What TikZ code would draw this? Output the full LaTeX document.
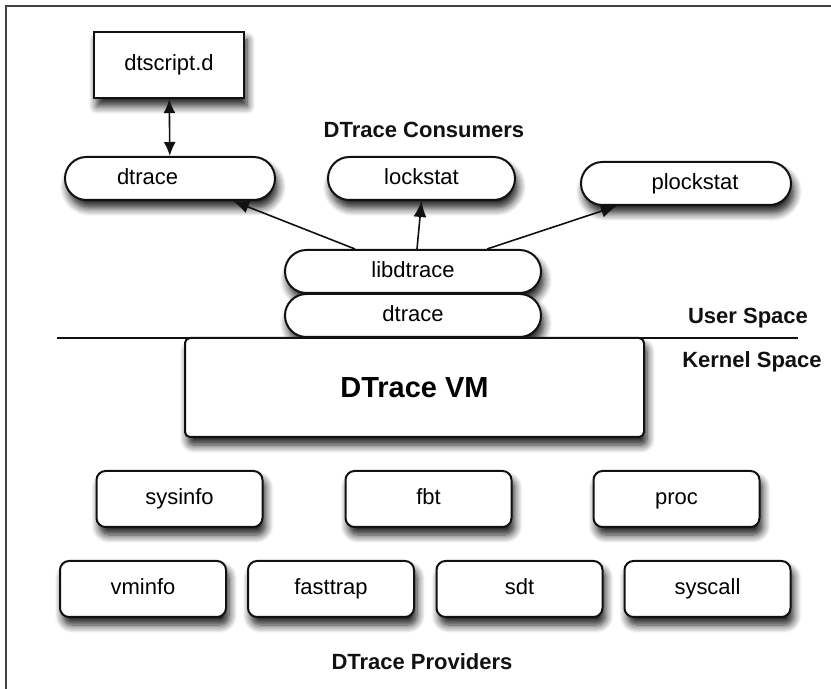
\documentclass[tikz,border=0pt]{standalone}
\usepackage{fontspec}
\setmainfont{Liberation Sans}
\usetikzlibrary{positioning, calc, arrows.meta, shadows.blur}
\definecolor{Dark}{HTML}{111111}
\definecolor{Frame}{HTML}{444444}
\definecolor{White}{HTML}{FFFFFF}
\tikzset{
    boxshadow/.style={blur shadow={shadow xshift=1.5pt, shadow yshift=-4pt, shadow blur radius=4pt, shadow blur steps=8, shadow opacity=90}},
    plainfont/.style={font=\fontsize{11}{13}\selectfont, text height=8pt, text depth=2.3pt},
    pill/.style={rectangle, rounded corners=10.7pt, draw=Dark, line width=1pt, fill=White, minimum height=21.5pt, plainfont, boxshadow},
    scriptbox/.style={rectangle, draw=Dark, line width=1.1pt, fill=White, minimum width=75pt, minimum height=33pt, plainfont, boxshadow},
    vmbox/.style={rectangle, rounded corners=2.5pt, draw=Dark, line width=1pt, fill=White, minimum width=229.5pt, minimum height=49.5pt, font=\bfseries\fontsize{14.5}{17}\selectfont, boxshadow},
    provider/.style={rectangle, rounded corners=4.5pt, draw=Dark, line width=1pt, fill=White, minimum width=83pt, minimum height=28pt, plainfont, boxshadow},
    heading/.style={font=\bfseries\fontsize{11}{13}\selectfont, text=Dark},
    arrow/.style={-{Latex[length=8pt, width=6.5pt]}, line width=0.8pt, color=Dark},
    dblarrow/.style={{Latex[length=7pt, width=6pt]}-{Latex[length=7pt, width=6pt]}, line width=0.8pt, color=Dark},
}
\begin{document}
\begin{tikzpicture}[x=0.5pt, y=-0.5pt]
    \useasboundingbox (0,0) rectangle (831,689);

    % Frame
    \coordinate (frameTL) at (6,6);
    \draw[Frame, line width=0.6pt] (frameTL |- 0,689) -- (frameTL) -- (831,6);

    % Consumers
    \node[scriptbox] (script) at (169,65) {dtscript.d};
    \node[pill, minimum width=105pt, inner xsep=0pt, text width=53pt, align=left] (dtraceU) at (170,178.5) {dtrace};
    \node[pill, minimum width=93.5pt] (lockstat) at (421.5,178.5) {lockstat};
    \node[pill, minimum width=105pt] (plockstat) at (686,183.5) {\hspace*{9pt}plockstat};
    \node[heading] (consumers) at (424,130) {DTrace Consumers};

    % Library and command
    \node[pill, minimum width=128pt] (libdtrace) at (413,271.5) {libdtrace};
    \node[pill, minimum width=128pt] (dtraceK) at (413,315.5) {dtrace};

    % User / kernel boundary
    \coordinate (splitL) at (57,338);
    \coordinate (splitR) at (798,338);
    \draw[Dark, line width=0.6pt] (splitL) -- (splitR);
    \node[heading] (userspace) at (748,318) {User Space};
    \node[heading] (kernelspace) at (752,362) {Kernel Space};

    % Virtual machine
    \node[vmbox] (vm) at (414.5,387.5) {DTrace VM};

    % Providers
    \node[provider] (sysinfo) at (179.5,499) {sysinfo};
    \node[provider] (fbt) at (428.5,499) {fbt};
    \node[provider] (proc) at (676.5,499) {proc};
    \node[provider] (vminfo) at (143,589) {vminfo};
    \node[provider] (fasttrap) at (331,589) {fasttrap};
    \node[provider] (sdt) at (519.5,589) {sdt};
    \node[provider] (syscall) at (707.5,589) {syscall};
    \node[heading] (providers) at (422,662) {DTrace Providers};

    % Arrows
    \draw[dblarrow] (script) -- (dtraceU);
    \draw[arrow] ([xshift=-29pt]libdtrace.north) -- ([xshift=31.5pt]dtraceU.south);
    \draw[arrow] ([xshift=2pt]libdtrace.north) -- (lockstat.south);
    \draw[arrow] ([xshift=37pt]libdtrace.north) -- ([xshift=-34.5pt]plockstat.south);
\end{tikzpicture}
\end{document}
